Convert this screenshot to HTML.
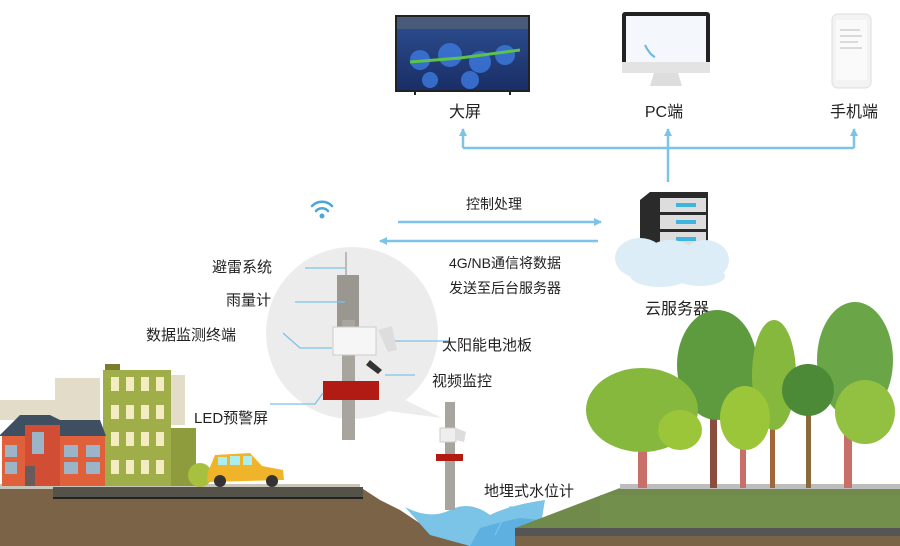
<!DOCTYPE html>
<html><head><meta charset="utf-8"><style>
html,body{margin:0;padding:0;background:#fff}
svg{display:block}
text{font-family:"Liberation Sans","Noto Sans CJK SC",sans-serif;fill:#222}
</style></head><body>
<svg width="900" height="546" viewBox="0 0 900 546" xmlns="http://www.w3.org/2000/svg">
<defs>
<marker id="ah" markerWidth="8" markerHeight="8" refX="7" refY="4" orient="auto" markerUnits="userSpaceOnUse"><path d="M0,0 L8,4 L0,8 z" fill="#7cc3e8"/></marker>
<linearGradient id="scr" x1="0" y1="0" x2="0" y2="1"><stop offset="0" stop-color="#2a4a8a"/><stop offset="1" stop-color="#1a2e66"/></linearGradient>
</defs>

<!-- bubble (behind everything) -->
<path d="M395 395 L442 418 L380 410 z" fill="#ececec"/>
<circle cx="352" cy="333" r="86" fill="#ececec"/>

<!-- top devices -->
<rect x="395" y="15" width="135" height="77" fill="#222"/>
<rect x="397" y="29" width="131" height="61" fill="url(#scr)"/>
<rect x="397" y="17" width="131" height="12" fill="#4a5a7a"/>
<g fill="#3d7be0" opacity="0.8"><circle cx="420" cy="60" r="10"/><circle cx="450" cy="55" r="12"/><circle cx="480" cy="62" r="11"/><circle cx="505" cy="55" r="10"/><circle cx="430" cy="80" r="8"/><circle cx="470" cy="80" r="9"/></g>
<path d="M410 62 L460 58 L520 50" stroke="#5bc24a" stroke-width="3" fill="none"/>
<line x1="415" y1="92" x2="415" y2="95" stroke="#222" stroke-width="2"/><line x1="510" y1="92" x2="510" y2="95" stroke="#222" stroke-width="2"/>

<rect x="622" y="12" width="88" height="60" rx="3" fill="#222"/>
<rect x="626" y="16" width="80" height="46" fill="#f4f7fb"/>
<path d="M645 45 q5 10 10 12" stroke="#6bb6e0" stroke-width="2" fill="none"/>
<rect x="622" y="62" width="88" height="11" fill="#e3e3e3"/>
<path d="M654 73 L678 73 L682 86 L650 86 z" fill="#ddd"/>

<rect x="832" y="14" width="39" height="74" rx="6" fill="#f3f3f3" stroke="#ddd"/>
<rect x="836" y="20" width="31" height="60" fill="#fafafa"/>
<g stroke="#bbb" stroke-width="1"><line x1="840" y1="30" x2="860" y2="30"/><line x1="840" y1="36" x2="862" y2="36"/><line x1="840" y1="42" x2="858" y2="42"/><line x1="840" y1="48" x2="862" y2="48"/></g>

<text x="465" y="117" font-size="16" text-anchor="middle">大屏</text>
<text x="664" y="117" font-size="16" text-anchor="middle">PC端</text>
<text x="854" y="117" font-size="16" text-anchor="middle">手机端</text>

<!-- connectors -->
<g stroke="#7cc3e8" stroke-width="2.5" fill="none">
<polyline points="463,148 854,148"/>
<line x1="463" y1="148" x2="463" y2="129" marker-end="url(#ah)"/>
<line x1="668" y1="182" x2="668" y2="129" marker-end="url(#ah)"/>
<line x1="854" y1="148" x2="854" y2="129" marker-end="url(#ah)"/>
<line x1="398" y1="222" x2="601" y2="222" marker-end="url(#ah)"/>
<line x1="598" y1="241" x2="380" y2="241" marker-end="url(#ah)"/>
</g>
<text x="494" y="209" font-size="14" text-anchor="middle">控制处理</text>
<text x="505" y="268" font-size="14" text-anchor="middle">4G/NB通信将数据</text>
<text x="505" y="293" font-size="14" text-anchor="middle">发送至后台服务器</text>

<!-- server -->
<path d="M640 200 L650 192 L708 192 L708 250 L640 250 z" fill="#2a2a2a"/>
<g fill="#ddd"><rect x="660" y="198" width="46" height="14"/><rect x="660" y="215" width="46" height="14"/><rect x="660" y="232" width="46" height="14"/></g>
<g fill="#3fb4e0"><rect x="676" y="203" width="20" height="4"/><rect x="676" y="220" width="20" height="4"/><rect x="676" y="237" width="20" height="4"/></g>
<g fill="#dcedf8"><ellipse cx="640" cy="258" rx="25" ry="20"/><ellipse cx="670" cy="262" rx="28" ry="22"/><ellipse cx="705" cy="260" rx="24" ry="20"/><ellipse cx="660" cy="275" rx="30" ry="12"/><ellipse cx="700" cy="276" rx="25" ry="10"/></g>
<text x="677" y="314" font-size="16" text-anchor="middle">云服务器</text>

<!-- wifi -->
<g fill="none" stroke="#4aa6dd" stroke-width="2.5" stroke-linecap="round">
<path d="M312 206 a14 14 0 0 1 20 0"/><path d="M316 211 a8 8 0 0 1 12 0"/></g>
<circle cx="322" cy="216" r="2.5" fill="#4aa6dd"/>

<!-- main pole -->
<line x1="346" y1="252" x2="346" y2="275" stroke="#aaa" stroke-width="1.5"/>
<rect x="337" y="275" width="22" height="60" fill="#9a9690"/>
<rect x="342" y="320" width="13" height="120" fill="#a8a49e"/>
<rect x="333" y="327" width="43" height="28" fill="#f6f6f6" stroke="#ccc"/>
<path d="M378 330 L392 326 L397 350 L388 352 z" fill="#ddd"/>
<path d="M370 360 l12 10 l-4 4 l-12 -9z" fill="#333"/>
<rect x="323" y="381" width="56" height="19" fill="#b21a14"/>
<g stroke="#7cc3e8" stroke-width="1.3" fill="none">
<polyline points="305,268 345,268"/>
<polyline points="295,302 345,302"/>
<polyline points="283,333 300,348 332,348"/>
<polyline points="450,341 395,341"/>
<polyline points="415,375 385,375"/>
<polyline points="270,404 315,404 323,393"/>
</g>
<text x="212" y="272" font-size="15">避雷系统</text>
<text x="226" y="305" font-size="15">雨量计</text>
<text x="146" y="340" font-size="15">数据监测终端</text>
<text x="442" y="350" font-size="15">太阳能电池板</text>
<text x="432" y="386" font-size="15">视频监控</text>
<text x="194" y="423" font-size="15">LED预警屏</text>

<!-- ground left -->
<path d="M0 487 L360 487 L380 500 L400 510 L430 530 L470 546 L0 546 z" fill="#7a6347"/>
<rect x="0" y="484" width="360" height="5" fill="#c9c4b8"/>
<rect x="53" y="487" width="310" height="10" fill="#55524a"/>
<rect x="53" y="497" width="310" height="2" fill="#222"/>

<!-- buildings -->
<path d="M0 400 L55 400 L55 378 L100 378 L100 420 L0 420 z" fill="#e2dcc9"/>
<rect x="170" y="375" width="15" height="50" fill="#e2dcc9"/>
<rect x="103" y="370" width="68" height="116" fill="#9fae48"/>
<rect x="105" y="364" width="15" height="6" fill="#7a7d30"/>
<g fill="#f2ecc0"><rect x="111" y="377" width="8" height="14"/><rect x="126" y="377" width="8" height="14"/><rect x="141" y="377" width="8" height="14"/><rect x="156" y="377" width="8" height="14"/>
<rect x="111" y="405" width="8" height="14"/><rect x="126" y="405" width="8" height="14"/><rect x="141" y="405" width="8" height="14"/><rect x="156" y="405" width="8" height="14"/>
<rect x="111" y="432" width="8" height="14"/><rect x="126" y="432" width="8" height="14"/><rect x="141" y="432" width="8" height="14"/><rect x="156" y="432" width="8" height="14"/>
<rect x="111" y="460" width="8" height="14"/><rect x="126" y="460" width="8" height="14"/><rect x="141" y="460" width="8" height="14"/><rect x="156" y="460" width="8" height="14"/></g>
<rect x="171" y="428" width="25" height="58" fill="#8f9c3e"/>
<ellipse cx="200" cy="475" rx="12" ry="12" fill="#a8c040"/>
<path d="M0 435 L20 415 L50 415 L60 420 L100 420 L106 436 L0 436 z" fill="#3d4f60"/>
<rect x="2" y="436" width="103" height="50" fill="#e0603c"/>
<rect x="25" y="425" width="35" height="61" fill="#d14e35"/>
<g fill="#9bb4c8"><rect x="32" y="432" width="12" height="22"/><rect x="5" y="445" width="12" height="12"/><rect x="5" y="462" width="12" height="12"/><rect x="64" y="445" width="14" height="12"/><rect x="86" y="445" width="14" height="12"/><rect x="64" y="462" width="14" height="12"/><rect x="86" y="462" width="14" height="12"/></g>
<rect x="25" y="466" width="10" height="20" fill="#6a5a5a"/>

<!-- car -->
<path d="M208 472 L215 455 L250 453 L262 466 L283 470 L284 480 L207 482 z" fill="#f0b42a"/>
<g fill="#aee"><rect x="218" y="457" width="9" height="8"/><rect x="230" y="456" width="10" height="9"/><rect x="243" y="456" width="9" height="9"/></g>
<circle cx="220" cy="481" r="6" fill="#333"/><circle cx="272" cy="481" r="6" fill="#333"/>

<!-- water -->
<path d="M405 507 Q430 520 450 510 Q470 500 490 515 Q510 505 545 500 L540 530 L470 546 L430 535 z" fill="#7cc3e8"/>
<path d="M480 528 Q500 522 520 518 L540 520 L540 546 L470 546 z" fill="#5db0df"/>

<!-- small pole -->
<rect x="445" y="402" width="10" height="108" fill="#a8a49e"/>
<rect x="440" y="428" width="16" height="14" fill="#eee" stroke="#ccc"/>
<path d="M456 428 L466 432 L464 442 L456 440z" fill="#ddd"/>
<rect x="436" y="454" width="27" height="7" fill="#b21a14"/>
<polyline points="535,507 510,507 500,525 495,535" stroke="#7cc3e8" stroke-width="1.3" fill="none"/>
<text x="484" y="496" font-size="15">地埋式水位计</text>

<!-- right ground -->
<path d="M515 528 L620 488 L900 488 L900 546 L515 546 z" fill="#6f8a4a"/>
<path d="M600 495 L900 495 L900 530 L600 530 z" fill="#7a9550" opacity="0.4"/>
<rect x="620" y="484" width="280" height="5" fill="#bdbdbd"/>
<rect x="515" y="528" width="385" height="8" fill="#555"/>
<rect x="515" y="536" width="385" height="10" fill="#7a6347"/>

<!-- trees -->
<g>
<rect x="638" y="400" width="9" height="88" fill="#c96f6a"/>
<rect x="710" y="370" width="7" height="118" fill="#8a4d3e"/>
<rect x="770" y="360" width="5" height="128" fill="#a0683a"/>
<rect x="806" y="400" width="5" height="88" fill="#8a6a3a"/>
<rect x="844" y="400" width="8" height="88" fill="#c96f6a"/>
<rect x="740" y="420" width="6" height="68" fill="#c96f6a"/>
<ellipse cx="717" cy="365" rx="40" ry="55" fill="#5e9a3e"/>
<ellipse cx="855" cy="360" rx="38" ry="58" fill="#6aa548"/>
<ellipse cx="774" cy="375" rx="22" ry="55" fill="#86b83e"/>
<ellipse cx="642" cy="410" rx="56" ry="42" fill="#86b83e"/>
<ellipse cx="808" cy="390" rx="26" ry="26" fill="#4c8a38"/>
<ellipse cx="745" cy="418" rx="25" ry="32" fill="#9cc63a"/>
<ellipse cx="865" cy="412" rx="30" ry="32" fill="#92c040"/>
<ellipse cx="680" cy="430" rx="22" ry="20" fill="#9cc63a"/>
</g>
</svg>
</body></html>
